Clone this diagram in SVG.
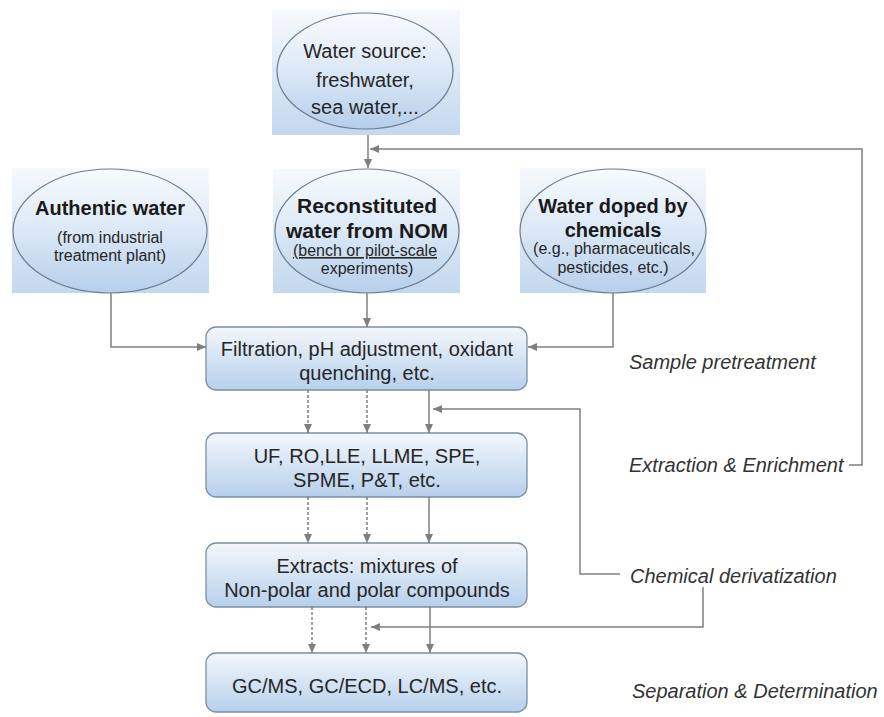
<svg xmlns="http://www.w3.org/2000/svg" width="884" height="717" viewBox="0 0 884 717">
<defs>
<linearGradient id="gSq" x1="0" y1="0" x2="0" y2="1">
<stop offset="0" stop-color="#f6f9fd"/>
<stop offset="1" stop-color="#c3d8ee"/>
</linearGradient>
<linearGradient id="gEl" x1="0" y1="0" x2="0" y2="1">
<stop offset="0" stop-color="#f8fbfe"/>
<stop offset="0.5" stop-color="#dbe8f6"/>
<stop offset="1" stop-color="#b6cfeb"/>
</linearGradient>
<linearGradient id="gBox" x1="0" y1="0" x2="0" y2="1">
<stop offset="0" stop-color="#f3f7fc"/>
<stop offset="1" stop-color="#b7d0ec"/>
</linearGradient>
<marker id="ah" markerUnits="userSpaceOnUse" markerWidth="10" markerHeight="10" viewBox="0 0 10 10" refX="9" refY="5" orient="auto">
<path d="M0,1 L9,5 L0,9 Z" fill="#7f7f7f"/>
</marker>
</defs>
<style>
.sq{fill:url(#gSq);}
.el{fill:url(#gEl);stroke:#6b7d90;stroke-width:1.2;}
.box{fill:url(#gBox);stroke:#7b8ea3;stroke-width:1.3;}
.t{font-family:"Liberation Sans",Arial,sans-serif;fill:#262626;text-anchor:middle;}
.b{font-weight:bold;fill:#1a1a1a;}
.lab{font-family:"Liberation Sans",Arial,sans-serif;font-style:italic;font-size:20px;fill:#333;}
.c{fill:none;stroke:#808080;stroke-width:1.5;}
.d{stroke-dasharray:3 2;}
</style>

<g id="water-source">
<rect class="sq" x="272" y="10" width="188" height="125"/>
<ellipse class="el" cx="365" cy="71" rx="88" ry="58"/>
<text class="t" font-size="20" x="365" y="58">Water source:</text>
<text class="t" font-size="20" x="365" y="87">freshwater,</text>
<text class="t" font-size="20" x="365" y="114">sea water,...</text>
</g>

<g id="authentic-water">
<rect class="sq" x="12" y="168" width="197" height="125"/>
<ellipse class="el" cx="110" cy="231" rx="97" ry="62"/>
<text class="t b" font-size="20" x="110" y="215">Authentic water</text>
<text class="t" font-size="16" x="110" y="243">(from industrial</text>
<text class="t" font-size="16" x="110" y="261">treatment plant)</text>
</g>

<g id="reconstituted-water">
<rect class="sq" x="273" y="169" width="187" height="124"/>
<ellipse class="el" cx="367" cy="231" rx="92" ry="62"/>
<text class="t b" font-size="21" x="367" y="213">Reconstituted</text>
<text class="t b" font-size="21" x="367" y="238">water from NOM</text>
<text class="t" font-size="16" x="365" y="256" text-decoration="underline">(bench or pilot-scale</text>
<text class="t" font-size="16" x="367" y="274">experiments)</text>
</g>

<g id="water-doped">
<rect class="sq" x="520" y="168" width="186" height="125"/>
<ellipse class="el" cx="613" cy="231" rx="93" ry="62"/>
<text class="t b" font-size="20" x="613" y="213">Water doped by</text>
<text class="t b" font-size="20" x="613" y="237">chemicals</text>
<text class="t" font-size="16" x="614" y="254">(e.g., pharmaceuticals,</text>
<text class="t" font-size="16" x="613" y="273">pesticides, etc.)</text>
</g>

<g id="pretreatment">
<rect class="box" x="206" y="327" width="321" height="63" rx="10"/>
<text class="t" font-size="20" x="367" y="356">Filtration, pH adjustment, oxidant</text>
<text class="t" font-size="20" x="367" y="380">quenching, etc.</text>
</g>

<g id="extraction">
<rect class="box" x="206" y="433" width="321" height="64" rx="10"/>
<text class="t" font-size="20" x="367" y="463">UF, RO,LLE, LLME, SPE,</text>
<text class="t" font-size="20" x="367" y="487">SPME, P&amp;T, etc.</text>
</g>

<g id="extracts">
<rect class="box" x="206" y="543" width="321" height="64" rx="10"/>
<text class="t" font-size="20" x="367" y="573">Extracts: mixtures of</text>
<text class="t" font-size="20" x="367" y="597">Non-polar and polar compounds</text>
</g>

<g id="determination">
<rect class="box" x="206" y="653" width="321" height="59" rx="10"/>
<text class="t" font-size="20" x="367" y="693">GC/MS, GC/ECD, LC/MS, etc.</text>
</g>

<g id="labels">
<text class="lab" x="629" y="369">Sample pretreatment</text>
<text class="lab" x="629" y="472">Extraction &amp; Enrichment</text>
<text class="lab" x="630" y="583">Chemical derivatization</text>
<text class="lab" x="632" y="698">Separation &amp; Determination</text>
</g>

<g id="connectors">
<path class="c" d="M368,135 V168" marker-end="url(#ah)"/>
<path class="c" d="M849,465 H862 V149 H370" marker-end="url(#ah)"/>
<path class="c" d="M111,293 V347 H206" marker-end="url(#ah)"/>
<path class="c" d="M367,293 V327" marker-end="url(#ah)"/>
<path class="c" d="M613,293 V347 H528" marker-end="url(#ah)"/>
<path class="c d" d="M308,390 V433" marker-end="url(#ah)"/>
<path class="c d" d="M367,390 V433" marker-end="url(#ah)"/>
<path class="c" d="M429,390 V433" marker-end="url(#ah)"/>
<path class="c" d="M620,574 H580 V409 H433" marker-end="url(#ah)"/>
<path class="c d" d="M308,497 V543" marker-end="url(#ah)"/>
<path class="c d" d="M367,497 V543" marker-end="url(#ah)"/>
<path class="c" d="M429,497 V543" marker-end="url(#ah)"/>
<path class="c" d="M703,587 V627 H371" marker-end="url(#ah)"/>
<path class="c d" d="M312,607 V653" marker-end="url(#ah)"/>
<path class="c d" d="M366,607 V653" marker-end="url(#ah)"/>
<path class="c" d="M430,607 V653" marker-end="url(#ah)"/>
</g>
</svg>
